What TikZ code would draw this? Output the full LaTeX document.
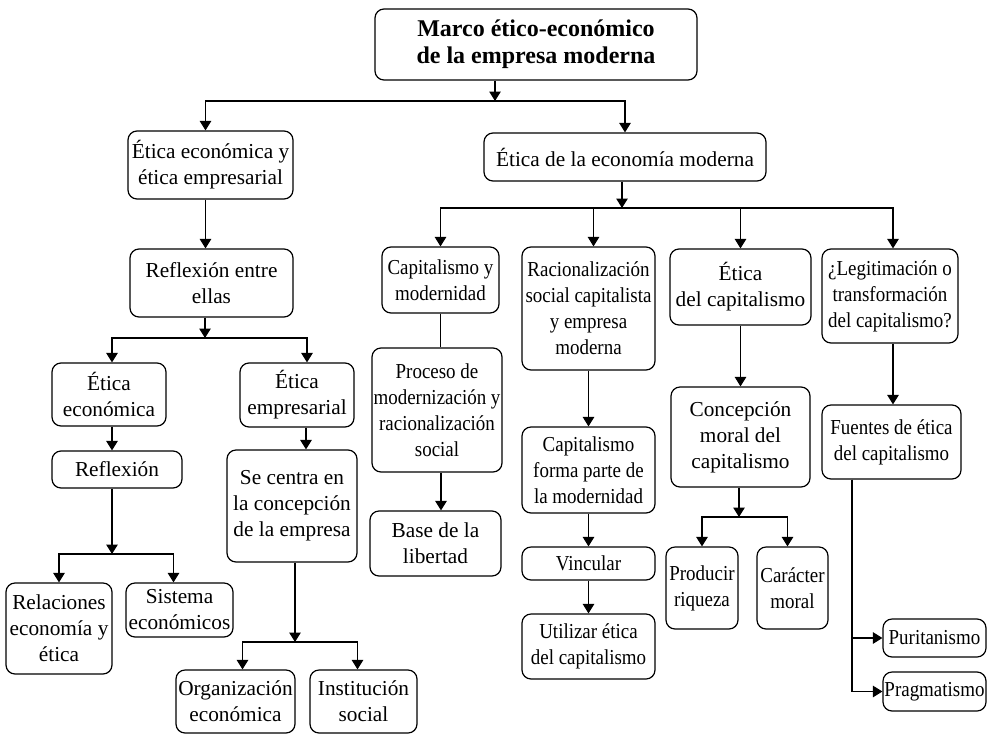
\documentclass[tikz,border=0pt]{standalone}
\usepackage{fontspec}
\setmainfont{Liberation Serif}
\newfontfamily\narrowfont[FakeStretch=0.89]{Liberation Serif}
\usetikzlibrary{arrows.meta}

\begin{document}
\begin{tikzpicture}[
      x=1pt, y=-1pt, line width=1.2pt,
      >={Triangle[width=11.5pt,length=9.5pt]},
      font=\fontsize{21.3}{26}\selectfont,
      box/.style={draw, rounded corners=9pt, align=center, inner sep=0pt},
      sz/.style 2 args={minimum width=#1pt, minimum height=#2pt},
      narrow/.style={font=\fontsize{21.3}{26}\narrowfont}
    ]
    \useasboundingbox (0,0) rectangle (990,734);
    % level 0 and 1
    \node[box,sz={322}{71},font=\fontsize{24}{27}\bfseries] (top) at (536,44.5)
      {Marco ético-económico\\de la empresa moderna};
    \node[box,sz={165}{68}] (eee)   at (210.5,165) {Ética económica y\\ética empresarial};
    \node[box,sz={282}{48}] (edlem) at (625,157)   {Ética de la economía moderna};
    % left branch
    \node[box,sz={163}{68}] (refl)  at (211.5,283) {Reflexión entre\\ellas};
    \node[box,sz={114}{63}] (eco)   at (109,394.5) {Ética\\económica};
    \node[box,sz={130}{37}] (reflx) at (117,469.5) {Reflexión};
    \node[box,sz={106}{91}] (relac) at (59,628.5)  {Relaciones\\economía y\\ética};
    \node[box,sz={107}{54}] (sist)  at (179.5,610) {Sistema\\económicos};
    \node[box,sz={114}{64}] (emp)   at (297,395)   {Ética\\empresarial};
    \node[box,sz={130}{112}] (centra) at (292,506) {Se centra en\\la concepción\\de la empresa};
    \node[box,sz={119}{63}] (org)   at (235.5,701.5) {Organización\\económica};
    \node[box,sz={107}{63}] (inst)  at (363.5,701.5) {Institución\\social};
    % right branch
    \node[box,narrow,sz={117}{66}] (cym)  at (440.5,280) {Capitalismo y\\modernidad};
    \node[box,narrow,sz={130}{124}] (proc) at (437,410) {Proceso de\\modernización y\\racionalización\\social};
    \node[box,sz={131}{65}] (base) at (435.5,543.5) {Base de la\\libertad};
    \node[box,narrow,sz={133}{123}] (rac) at (588.5,308.5) {Racionalización\\social capitalista\\y empresa\\moderna};
    \node[box,narrow,sz={133}{86}] (forma) at (588.5,470) {Capitalismo\\forma parte de\\la modernidad};
    \node[box,narrow,sz={133}{33}] (vinc)  at (588.5,563.5) {Vincular};
    \node[box,narrow,sz={133}{65}] (util)  at (588.5,646.5) {Utilizar ética\\del capitalismo};
    \node[box,sz={141}{76}] (etcap) at (740.5,287) {Ética\\del capitalismo};
    \node[box,sz={139}{100}] (conc) at (740.5,437) {Concepción\\moral del\\capitalismo};
    \node[box,narrow,sz={72}{82}] (prod)  at (702,588)   {Producir\\riqueza};
    \node[box,narrow,sz={71}{82}] (carac) at (792.5,588) {Carácter\\moral};
    \node[box,narrow,sz={136}{94}] (legit) at (890,296) {¿Legitimación o\\transformación\\del capitalismo?};
    \node[box,narrow,sz={139}{74}] (fuent) at (891.5,442) {Fuentes de ética\\del capitalismo};
    \node[box,narrow,sz={103}{38}] (purit) at (934.5,638) {Puritanismo};
    \node[box,narrow,sz={103}{39}] (pragm) at (934.5,691.5) {Pragmatismo};
    % junctions
    \coordinate (j0) at (495,101);
    \coordinate (j1) at (622,208);
    \coordinate (j2) at (205,338);
    \coordinate (j3) at (112,554);
    \coordinate (j4) at (295,642);
    \coordinate (j5) at (739,517);
    % connectors
    \draw[->] (top.south -| j0) -- (j0);
    \draw[->] (j0) -| ([xshift=-5pt]eee.north);
    \draw[->] (j0) -| (edlem);
    \draw[->] ([xshift=-5pt]eee.south) -- ([xshift=-6pt]refl.north);
    \draw[->] (refl.south -| j2) -- (j2);
    \draw[->] (j2) -| ([xshift=3pt]eco.north);
    \draw[->] (j2) -| ([xshift=10pt]emp.north);
    \draw[->] ([xshift=3pt]eco.south) -- (reflx.north -| j3);
    \draw[->] (reflx.south -| j3) -- (j3);
    \draw[->] (j3) -| (relac);
    \draw[->] (j3) -| ([xshift=-6pt]sist.north);
    \draw[->] ([xshift=9pt]emp.south) -- ([xshift=14pt]centra.north);
    \draw[->] (centra.south -| j4) -- (j4);
    \draw[->] (j4) -| ([xshift=7pt]org.north);
    \draw[->] (j4) -| ([xshift=-6pt]inst.north);
    \draw[->] (edlem.south -| j1) -- (j1);
    \draw[->] (j1) -| (cym);
    \draw[->] (j1) -| ([xshift=5pt]rac.north);
    \draw[->] (j1) -| (etcap);
    \draw[->] (j1) -| ([xshift=3pt]legit.north);
    \draw (cym) -- (cym |- proc.north);
    \draw[->] ([xshift=4pt]proc.south) -- ([xshift=5.5pt]base.north);
    \draw[->] (rac) -- (forma);
    \draw[->] (forma) -- (vinc);
    \draw[->] (vinc) -- (util);
    \draw[->] (etcap) -- (conc);
    \draw[->] (conc.south -| j5) -- (j5);
    \draw[->] (j5) -| (prod);
    \draw[->] (j5) -| ([xshift=-5pt]carac.north);
    \draw[->] ([xshift=3pt]legit.south) -- ([xshift=1.5pt]fuent.north);
    \draw[->] ([xshift=-39.5pt]fuent.south) |- (purit);
    \draw[->] ([xshift=-39.5pt]fuent.south) |- (pragm);
  \end{tikzpicture}
\end{document}
